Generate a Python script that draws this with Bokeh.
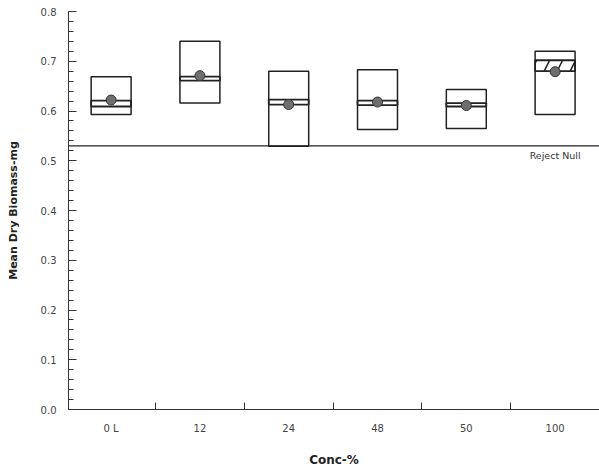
from bokeh.plotting import figure
from bokeh.models import (ColumnDataSource, Range1d, FixedTicker, SingleIntervalTicker,
                          NumeralTickFormatter, Span, Label)
from bokeh.embed import file_html
from bokeh.resources import INLINE

# Concentration groups and summary statistics of dry biomass (mg)
categories = ["0 L", "12", "24", "48", "50", "100"]
box_low = [0.593, 0.616, 0.529, 0.563, 0.565, 0.593]
box_high = [0.669, 0.740, 0.680, 0.683, 0.643, 0.720]
median_low = [0.609, 0.661, 0.613, 0.612, 0.609, 0.680]
median_high = [0.621, 0.669, 0.623, 0.621, 0.616, 0.702]
means = [0.622, 0.671, 0.613, 0.618, 0.611, 0.679]
band_hatch = [" ", " ", " ", " ", " ", "/"]
reject_null = 0.53

x_pos = [i + 0.5 for i in range(len(categories))]
half_w = 0.225

src = ColumnDataSource(dict(
    x=x_pos,
    left=[x - half_w for x in x_pos],
    right=[x + half_w for x in x_pos],
    low=box_low, high=box_high,
    mlow=median_low, mhigh=median_high,
    mean=means, hatch=band_hatch,
))

p = figure(width=599, height=471, output_backend="svg", toolbar_location=None,
           x_range=Range1d(0.02, 6.0), y_range=Range1d(0, 0.8),
           min_border_left=68, min_border_right=0, min_border_top=11,
           min_border_bottom=62)
p.outline_line_color = None
p.xgrid.visible = False
p.ygrid.visible = False
p.background_fill_color = "white"
p.border_fill_color = "white"

# boxes
p.quad(left="left", right="right", bottom="low", top="high", source=src,
       fill_color="white", line_color="#222222", line_width=1.5)
# median band
p.quad(left="left", right="right", bottom="mlow", top="mhigh", source=src,
       fill_color=None, line_color="#222222", line_width=1.8,
       hatch_pattern="hatch", hatch_color="#222222", hatch_scale=26,
       hatch_weight=1.5)
# means
p.scatter(x="x", y="mean", source=src, size=10, fill_color="#6e6e6e",
          line_color="#333333", line_width=1)

# decision threshold
p.add_layout(Span(location=reject_null, dimension="width",
                  line_color="#222222", line_width=1.2))
p.add_layout(Label(x=x_pos[-1], y=reject_null, text="Reject Null",
                   text_align="center", text_baseline="top", y_offset=-4,
                   text_font="DejaVu Sans", text_font_size="9.5px",
                   text_color="#333333"))

font = "DejaVu Sans"

# x axis: labels centred on groups, ticks between groups
xa = p.xaxis[0]
xa.ticker = FixedTicker(ticks=x_pos, minor_ticks=[float(i) for i in range(1, len(categories))])
xa.major_label_overrides = {x: c for x, c in zip(x_pos, categories)}
xa.major_tick_in = 0
xa.major_tick_out = 0
xa.minor_tick_in = 7
xa.minor_tick_out = 0
xa.minor_tick_line_color = "#333333"
xa.axis_line_color = "#333333"
xa.major_label_standoff = 13
xa.major_label_text_font = font
xa.major_label_text_font_size = "10px"
xa.major_label_text_color = "#444444"
xa.axis_label = "Conc-%"
xa.axis_label_text_font = font
xa.axis_label_text_font_size = "12px"
xa.axis_label_text_font_style = "bold"
xa.axis_label_text_color = "#222222"
xa.axis_label_standoff = 16

# y axis: major every 0.1, four minor ticks between
ya = p.yaxis[0]
ya.ticker = SingleIntervalTicker(interval=0.1, num_minor_ticks=5)
ya.formatter = NumeralTickFormatter(format="0.0")
ya.major_tick_in = 8
ya.major_tick_out = 0
ya.minor_tick_in = 5
ya.minor_tick_out = 0
ya.major_tick_line_color = "#333333"
ya.minor_tick_line_color = "#333333"
ya.axis_line_color = "#333333"
ya.major_label_standoff = 12
ya.major_label_text_font = font
ya.major_label_text_font_size = "10px"
ya.major_label_text_color = "#444444"
ya.axis_label = "Mean Dry Biomass-mg"
ya.axis_label_text_font = font
ya.axis_label_text_font_size = "11px"
ya.axis_label_text_font_style = "bold"
ya.axis_label_text_color = "#222222"
ya.axis_label_standoff = 18

open("out.html", "w").write(file_html(p, INLINE))
